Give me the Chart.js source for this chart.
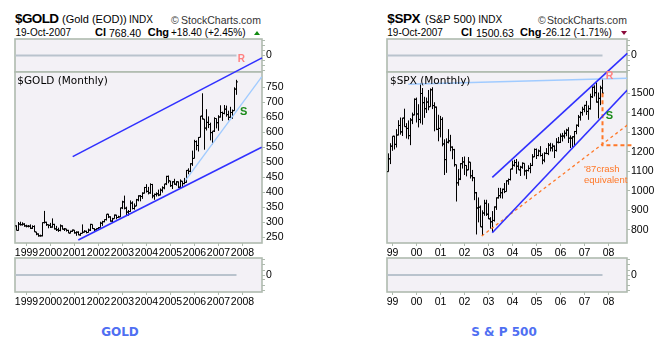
<!DOCTYPE html>
<html><head><meta charset="utf-8">
<script src="https://cdn.jsdelivr.net/npm/chart.js@4.4.1/dist/chart.umd.min.js"></script>
<style>
html,body{margin:0;padding:0;background:#fff;width:668px;height:354px;overflow:hidden;position:relative;}
canvas{position:absolute;}
.t{position:absolute;white-space:nowrap;line-height:1;font-family:"Liberation Sans",Arial,sans-serif;color:#000;font-size:10px;}
.b{font-weight:bold;}
.v{font-family:"DejaVu Sans",Verdana,sans-serif;}
</style></head><body>
<canvas id="gTop" width="334" height="50" style="left:0;top:30px;z-index:1"></canvas>
<canvas id="gMain" width="334" height="270" style="left:0;top:0;z-index:2"></canvas>
<canvas id="gBot" width="334" height="70" style="left:0;top:250px;z-index:3"></canvas>
<canvas id="sTop" width="334" height="50" style="left:334px;top:30px;z-index:1"></canvas>
<canvas id="sMain" width="334" height="270" style="left:334px;top:0;z-index:2"></canvas>
<canvas id="sBot" width="334" height="70" style="left:334px;top:250px;z-index:3"></canvas>

<!-- GOLD header -->
<div class="t b" style="left:15px;top:12.3px;font-size:13.5px;letter-spacing:-0.6px;">$GOLD</div>
<div class="t" style="left:62px;top:14px;font-size:11px;">(Gold (EOD))</div>
<div class="t" style="left:129px;top:14.5px;">INDX</div>
<div class="t" style="left:171px;top:14.5px;font-size:10.5px;color:#444;">©</div>
<div class="t" style="left:181px;top:14.5px;font-size:10.5px;color:#333;">StockCharts.com</div>
<div class="t" style="left:15.5px;top:28.2px;">19-Oct-2007</div>
<div class="t b" style="left:95px;top:27.4px;font-size:11px;">Cl</div>
<div class="t" style="left:109px;top:28.2px;font-size:10.5px;">768.40</div>
<div class="t b" style="left:147.7px;top:27.4px;font-size:11px;">Chg</div>
<div class="t" style="left:171px;top:28.2px;">+18.40 (+2.45%)</div>
<div style="position:absolute;left:254px;top:31px;width:0;height:0;border-left:3px solid transparent;border-right:3px solid transparent;border-bottom:4px solid #108a10;"></div>

<!-- SPX header -->
<div class="t b" style="left:387.3px;top:12.3px;font-size:13.5px;letter-spacing:-0.4px;">$SPX</div>
<div class="t" style="left:425px;top:14px;font-size:11px;">(S&amp;P 500)</div>
<div class="t" style="left:478.3px;top:14.5px;">INDX</div>
<div class="t" style="left:538px;top:14.5px;font-size:10.5px;color:#444;">©</div>
<div class="t" style="left:547px;top:14.5px;font-size:10.5px;color:#333;">StockCharts.com</div>
<div class="t" style="left:387.3px;top:28.2px;">19-Oct-2007</div>
<div class="t b" style="left:461px;top:27.4px;font-size:11px;">Cl</div>
<div class="t" style="left:476px;top:28.2px;font-size:10.5px;">1500.63</div>
<div class="t b" style="left:520px;top:27.4px;font-size:11px;">Chg</div>
<div class="t" style="left:542.3px;top:28.2px;">-26.12 (-1.71%)</div>
<div style="position:absolute;left:620.5px;top:31px;width:0;height:0;border-left:3.5px solid transparent;border-right:3.5px solid transparent;border-top:4px solid #8b0a3a;"></div>

<!-- panel labels -->
<div class="t v" style="left:17.3px;top:75px;font-size:10.5px;z-index:5;">$GOLD (Monthly)</div>
<div class="t v" style="left:390px;top:75px;font-size:10.5px;z-index:5;">$SPX (Monthly)</div>
<div class="t b" style="left:237.7px;top:53.8px;font-size:10px;color:#ff8080;z-index:5;">R</div>
<div class="t b" style="left:240px;top:105.6px;font-size:11px;color:#1a8a1a;z-index:5;">S</div>
<div class="t b" style="left:605.7px;top:70.4px;font-size:10.5px;color:#ff8080;z-index:5;">R</div>
<div class="t b" style="left:605.7px;top:110px;font-size:11px;color:#1a8a1a;z-index:5;">S</div>
<div class="t" style="left:584px;top:164px;font-size:9.5px;color:#ff7828;z-index:5;">'87crash</div>
<div class="t" style="left:584px;top:174.5px;font-size:9.5px;color:#ff7828;z-index:5;">equivalent</div>

<div class="t b v" style="left:70px;top:325.8px;width:100px;text-align:center;font-size:12px;color:#4f6ff2;">GOLD</div>
<div class="t b v" style="left:454px;top:325.8px;width:100px;text-align:center;font-size:12px;color:#4f6ff2;">S &amp; P 500</div>

<script>
// ---------- DATA ----------
// Gold monthly OHLC, Aug 1998 .. Oct 2007
const goldFirstMonth = [1998, 8];
const goldOpen = [
 288,273,294,292,294,
 288,287,287,280,286,268,261,255,255,299,300,292,
 290,284,293,278,275,273,288,277,278,273,264,270,
 274,265,267,258,263,267,270,266,274,293,279,275,
 279,282,297,302,309,327,318,304,312,324,316,318,
 348,368,347,334,336,364,346,354,375,388,386,397,
 416,403,398,426,388,393,395,391,407,415,428,453,
 438,422,435,427,435,417,437,429,433,473,470,495,
 513,569,556,583,654,644,614,633,626,599,604,646,
 632,651,666,663,677,659,650,666,672,744];
const goldHigh = [
 290,301,302,300,297,
 292,291,293,290,290,268,263,259,300,338,302,293,
 298,313,295,288,282,293,290,281,278,275,272,276,
 274,270,270,265,293,274,272,279,295,293,280,280,
 284,302,305,310,327,328,320,315,326,325,322,349,
 372,389,352,341,373,370,363,378,390,391,400,418,
 427,418,430,428,396,400,409,413,420,428,455,456,
 438,437,445,437,436,443,437,448,474,480,497,539,
 575,573,584,654,730,644,677,653,632,604,650,646,
 657,690,669,691,689,672,685,676,750,775];
const goldLow = [
 273,272,289,289,285,
 283,283,278,278,268,257,252,252,253,296,288,280,
 281,282,276,271,268,270,276,271,269,264,263,268,
 262,255,257,255,263,266,263,266,271,278,271,272,
 277,282,288,300,306,314,302,300,312,310,315,317,
 344,343,324,322,335,343,342,354,370,370,378,396,
 399,393,395,380,375,386,387,390,399,410,424,430,
 418,411,425,422,414,414,418,427,432,460,467,488,
 513,540,536,583,643,542,606,614,573,560,601,613,
 605,649,638,660,652,640,648,645,672,725];
const goldClose = [
 273,294,292,294,288,
 287,287,280,286,268,261,255,255,299,300,292,290,
 284,293,278,275,273,288,277,278,273,264,270,274,
 265,267,258,263,267,270,266,274,293,279,275,279,
 282,297,302,309,327,318,304,312,324,316,318,348,
 368,347,334,336,364,346,354,375,388,386,397,416,
 403,398,426,388,393,395,391,407,415,428,453,438,
 422,435,427,435,417,437,429,433,473,470,495,513,
 569,556,583,654,644,614,633,626,599,604,646,632,
 651,666,663,677,659,650,666,672,744,768];

// S&P 500 monthly OHLC, Nov 1998 .. Oct 2007
const spxFirstMonth = [1998, 11];
const spxOpen = [
 1098,1164,
 1229,1280,1238,1286,1335,1302,1373,1329,1320,1283,1363,1389,
 1469,1394,1366,1499,1452,1421,1455,1431,1518,1437,1429,1315,
 1320,1366,1240,1160,1249,1256,1224,1211,1134,1041,1060,1139,
 1148,1130,1107,1147,1077,1067,990,912,916,815,886,936,
 880,856,841,848,917,964,975,990,1008,996,1051,1058,
 1112,1131,1145,1126,1107,1121,1141,1102,1104,1115,1130,1174,
 1212,1181,1204,1181,1157,1192,1191,1234,1220,1229,1207,1249,
 1248,1280,1281,1295,1311,1270,1270,1277,1304,1336,1378,1401,
 1418,1438,1407,1421,1482,1531,1503,1455,1474,1527];
const spxHigh = [
 1192,1244,
 1280,1282,1316,1362,1376,1374,1421,1347,1361,1373,1401,1474,
 1478,1444,1553,1527,1482,1478,1517,1525,1531,1454,1432,1390,
 1384,1377,1264,1269,1316,1287,1228,1215,1134,1111,1142,1173,
 1176,1131,1173,1147,1107,1070,994,966,925,900,954,954,
 936,865,896,920,966,1015,1015,1011,1040,1054,1063,1112,
 1155,1159,1163,1150,1128,1146,1141,1109,1131,1143,1188,1217,
 1217,1212,1229,1192,1198,1219,1245,1246,1243,1233,1270,1276,
 1294,1297,1310,1318,1326,1284,1280,1307,1340,1389,1407,1431,
 1441,1461,1438,1498,1535,1541,1556,1504,1539,1576];
const spxLow = [
 1098,1137,
 1205,1212,1222,1284,1288,1281,1329,1268,1264,1234,1342,1387,
 1350,1325,1346,1339,1374,1399,1413,1431,1419,1305,1311,1254,
 1274,1228,1081,1092,1243,1203,1162,1124,945,1026,1055,1114,
 1081,1074,1106,1063,1049,952,776,838,815,768,872,871,
 855,806,789,842,902,960,962,960,988,996,1031,1053,
 1109,1124,1087,1107,1076,1113,1078,1060,1099,1090,1127,1173,
 1163,1177,1176,1136,1146,1188,1183,1202,1201,1168,1201,1243,
 1245,1253,1268,1280,1245,1219,1224,1231,1290,1327,1360,1385,
 1403,1389,1364,1416,1476,1484,1452,1371,1439,1495];
const spxClose = [
 1164,1229,
 1280,1238,1286,1335,1302,1373,1329,1320,1283,1363,1389,1469,
 1394,1366,1499,1452,1421,1455,1431,1518,1437,1429,1315,1320,
 1366,1240,1160,1249,1256,1224,1211,1134,1041,1060,1139,1148,
 1130,1107,1147,1077,1067,990,912,916,815,886,936,880,
 856,841,848,917,964,975,990,1008,996,1051,1058,1112,
 1131,1145,1126,1107,1121,1141,1102,1104,1115,1130,1174,1212,
 1181,1204,1181,1157,1192,1191,1234,1220,1229,1207,1249,1248,
 1280,1281,1295,1311,1270,1270,1277,1304,1336,1378,1401,1418,
 1438,1407,1421,1482,1531,1503,1455,1474,1527,1501];

// axis labels / ticks
const goldYearLabels = ['1999','2000','2001','2002','2003','2004','2005','2006','2007','2008'];
const spxYearLabels  = ['99','00','01','02','03','04','05','06','07','08'];
const goldYTicks = [250,300,350,400,450,500,550,600,650,700,750];
const spxYTicks  = [800,900,1000,1100,1200,1300,1400,1500];
const subPanelTicks = [-3,-2,-1,0,1,2,3];
const zeroLevel = 0;

// trend lines (x = months since Jan 1999, y = price)
const goldUpperChannel = [{x:23.1,y:519},{x:117.75,y:848}];
const goldLowerChannel = [{x:25.9,y:241},{x:117.6,y:550}];
const goldSupport      = [{x:79.5,y:440},{x:117.6,y:785}];
const spxResistance    = [{x:7.9,y:1546},{x:117.4,y:1577}];
const spxUpperChannel  = [{x:49.9,y:1069},{x:117.4,y:1705}];
const spxLowerChannel  = [{x:49.9,y:785},{x:117.4,y:1517}];
const spxCrashLine     = [{x:44.6,y:768},{x:117.4,y:1337}];
const spxCrashDrop     = [{x:105,y:1500},{x:105,y:1233},{x:120.75,y:1233}];

// ---------- HELPERS ----------
const PANEL_BG = '#f3f1f6';
const BORDER = '#afbbaf';
const TICK_FONT = '"Liberation Sans", Arial, sans-serif';

function monthIndex(first){ return (first[0]-1999)*12 + (first[1]-1); }
function ohlcPath(first,o,h,l,c){
  const m0 = monthIndex(first), pts = [];
  for(let i=0;i<h.length;i++){
    const m = m0+i;
    pts.push({x:m,y:l[i]},{x:m,y:h[i]},{x:m,y:null});
    pts.push({x:m-0.75,y:o[i]},{x:m,y:o[i]},{x:m,y:null});
    pts.push({x:m,y:c[i]},{x:m+0.75,y:c[i]},{x:m,y:null});
  }
  return pts;
}
function zeroLine(first,n){
  const m0 = monthIndex(first);
  return [{x:m0-0.5,y:zeroLevel},{x:m0+n-1,y:zeroLevel}];
}

const panelPlugin = {
  id:'panel',
  beforeDraw(chart){
    const a=chart.chartArea, c=chart.ctx;
    c.save(); c.fillStyle=PANEL_BG;
    c.fillRect(a.left,a.top,a.right-a.left,a.bottom-a.top); c.restore();
  },
  beforeDatasetsDraw(chart){
    const a=chart.chartArea, c=chart.ctx;
    c.save(); c.strokeStyle=BORDER; c.lineWidth=1.6;
    c.strokeRect(a.left,a.top,a.right-a.left,a.bottom-a.top); c.restore();
  }
};

function line(data,color,width,extra){
  return Object.assign({data,borderColor:color,borderWidth:width,pointRadius:0,fill:false,tension:0,spanGaps:false},extra||{});
}

function makeChart(id,o){
  return new Chart(document.getElementById(id),{
    type:'line',
    data:{datasets:o.datasets},
    options:{
      responsive:false, animation:false, events:[],
      layout:{padding:o.padding},
      plugins:{legend:{display:false},tooltip:{enabled:false},title:{display:false}},
      scales:{
        x:{type:'linear',min:o.xmin,max:o.xmax,position:'bottom',display:o.showX,offset:false,
          afterFit:s=>{s.height=o.xh;},
          afterBuildTicks:s=>{s.ticks=o.xLabels.map((_,i)=>({value:i*12}));},
          ticks:{autoSkip:false,maxRotation:0,minRotation:0,padding:1,color:'#000',
                 font:{family:TICK_FONT,size:10.5},callback:(v,i)=>o.xLabels[i]},
          grid:{display:true,drawOnChartArea:false,drawTicks:true,tickLength:3,color:BORDER,offset:false},
          border:{display:false}},
        y:{type:'linear',position:'right',min:o.ymin,max:o.ymax,
          afterFit:s=>{s.width=30;},
          afterBuildTicks:s=>{s.ticks=o.yTicks.map(v=>({value:v}));},
          ticks:{autoSkip:false,padding:1,color:'#000',font:{family:TICK_FONT,size:10.5},
                 callback:o.yLabel},
          grid:{display:true,drawOnChartArea:false,drawTicks:true,tickLength:3,color:BORDER},
          border:{display:false}}
      }
    },
    plugins:[panelPlugin]
  });
}

const BLUE='#3030ff', LIGHTBLUE='#a0cbff', ORANGE='#ff7828', ZERO='#b9c3cd';

// ---------- GOLD ----------
const gX = {xmin:-5.75,xmax:117.75};
makeChart('gMain',Object.assign({},gX,{
  padding:{left:15,top:72,right:42,bottom:0}, xh:27, showX:true, xLabels:goldYearLabels,
  ymin:231,ymax:801,yTicks:goldYTicks,yLabel:v=>String(v),
  datasets:[
    line(goldUpperChannel,BLUE,1.6,{clip:false}),
    line(goldLowerChannel,BLUE,1.6),
    line(goldSupport,LIGHTBLUE,1.4),
    line(ohlcPath(goldFirstMonth,goldOpen,goldHigh,goldLow,goldClose),'#000',1)
  ]}));
makeChart('gTop',Object.assign({},gX,{
  padding:{left:15,top:9,right:42,bottom:8}, xh:0, showX:false, xLabels:goldYearLabels,
  ymin:-3.3,ymax:3.3,yTicks:subPanelTicks,yLabel:v=>v===0?'0':'',
  datasets:[line(zeroLine(goldFirstMonth,goldClose.length),ZERO,2)]}));
makeChart('gBot',Object.assign({},gX,{
  padding:{left:15,top:8,right:42,bottom:0}, xh:28, showX:true, xLabels:goldYearLabels,
  ymin:-3.4,ymax:3.4,yTicks:subPanelTicks,yLabel:v=>v===0?'0':'',
  datasets:[line(zeroLine(goldFirstMonth,goldClose.length),ZERO,2)]}));

// ---------- SPX ----------
const sX = {xmin:-2.75,xmax:117.25};
makeChart('sMain',Object.assign({},sX,{
  padding:{left:53,top:72,right:11,bottom:0}, xh:27, showX:true, xLabels:spxYearLabels,
  ymin:732.3,ymax:1609.2,yTicks:spxYTicks,yLabel:v=>String(v),
  datasets:[
    line(spxUpperChannel,BLUE,1.6,{clip:false}),
    line(spxLowerChannel,BLUE,1.6),
    line(spxResistance,LIGHTBLUE,1.6),
    line(spxCrashDrop,ORANGE,2,{borderDash:[4,3],clip:false}),
    line(spxCrashLine,ORANGE,1.3,{borderDash:[3,3]}),
    line(ohlcPath(spxFirstMonth,spxOpen,spxHigh,spxLow,spxClose),'#000',1)
  ]}));
makeChart('sTop',Object.assign({},sX,{
  padding:{left:53,top:9,right:11,bottom:8}, xh:0, showX:false, xLabels:spxYearLabels,
  ymin:-3.3,ymax:3.3,yTicks:subPanelTicks,yLabel:v=>v===0?'0':'',
  datasets:[line(zeroLine(spxFirstMonth,spxClose.length),ZERO,2)]}));
makeChart('sBot',Object.assign({},sX,{
  padding:{left:53,top:8,right:11,bottom:0}, xh:28, showX:true, xLabels:spxYearLabels,
  ymin:-3.4,ymax:3.4,yTicks:subPanelTicks,yLabel:v=>v===0?'0':'',
  datasets:[line(zeroLine(spxFirstMonth,spxClose.length),ZERO,2)]}));
</script>
</body></html>
